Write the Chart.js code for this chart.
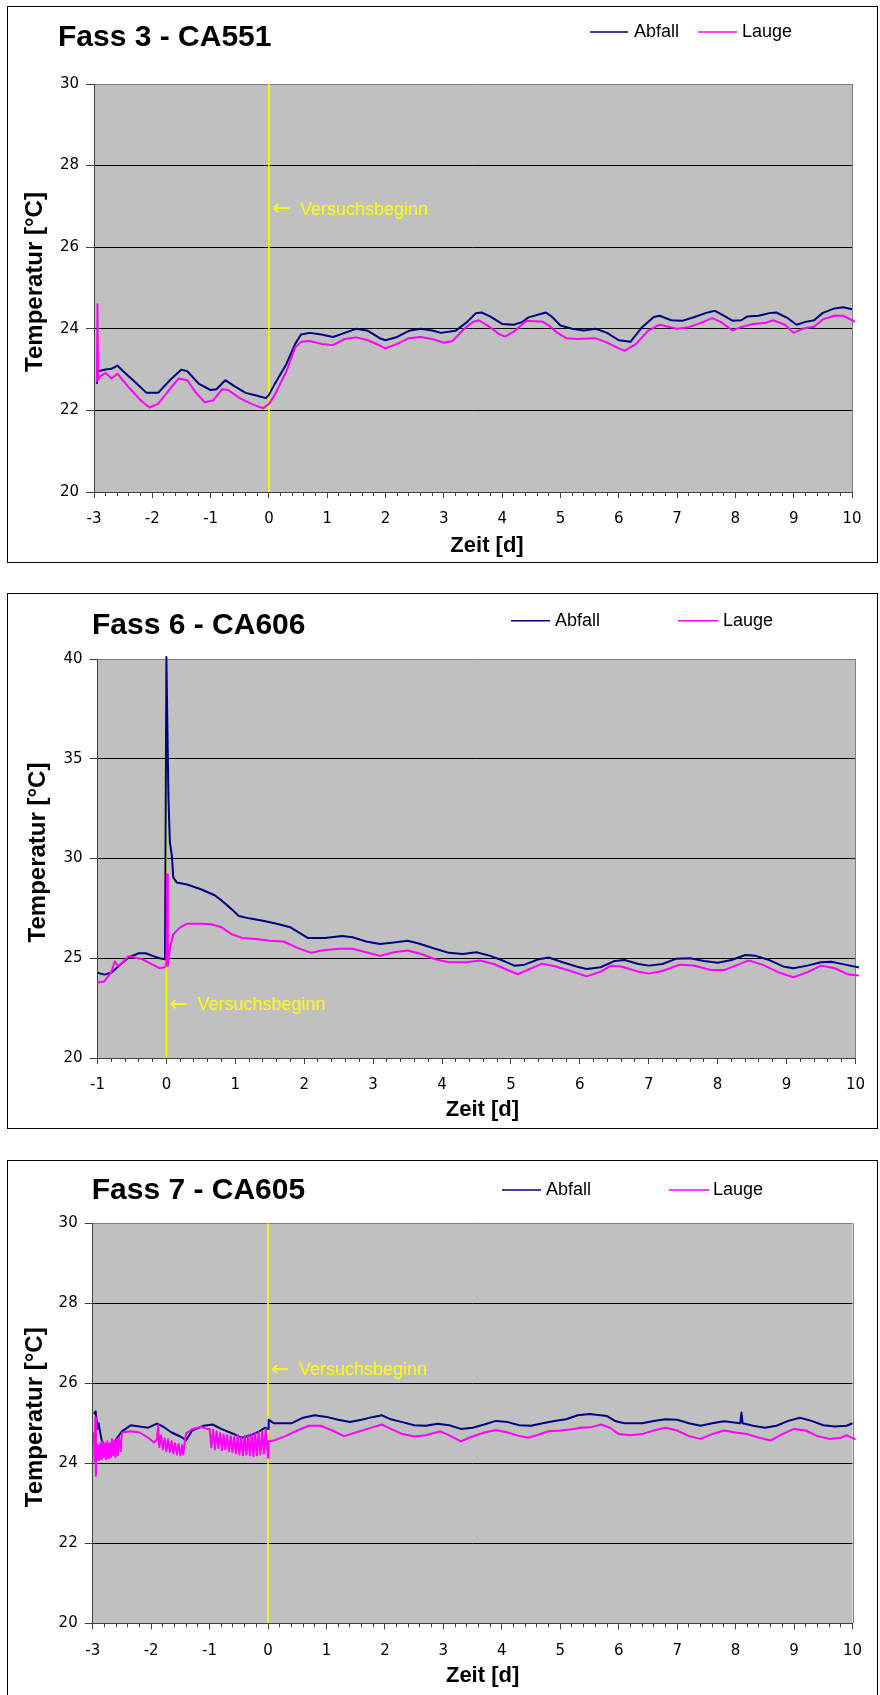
<!DOCTYPE html>
<html lang="de">
<head>
<meta charset="utf-8">
<title>Temperaturverlauf Fass 3, 6 und 7</title>
<script src="https://cdn.jsdelivr.net/npm/chart.js@4.4.1/dist/chart.umd.min.js"></script>
<style>
  html, body { margin: 0; padding: 0; background: #fff; }
  body { width: 880px; height: 1695px; position: relative; overflow: hidden; }
  .panel { position: absolute; box-sizing: border-box; border: 1px solid #000; background: #fff; }
  .panel canvas { display: block; }
</style>
</head>
<body>
<div class="panel" style="left:7px; top:6px; width:871px; height:557px;"><canvas id="fass3" width="869" height="555"></canvas></div>
<div class="panel" style="left:7px; top:593px; width:871px; height:536px;"><canvas id="fass6" width="869" height="534"></canvas></div>
<div class="panel" style="left:7px; top:1160px; width:871px; height:545px;"><canvas id="fass7" width="869" height="543"></canvas></div>
<script>
// ---- Messdaten: Zeit [d] und Temperatur [°C] ----
const seriesNames = ['Abfall', 'Lauge'];
const versuchsbeginn = 0;

// Fass 3 - CA551
const f3AbfallT = [-2.95,-2.93,-2.8,-2.7,-2.6,-2.5,-2.3,-2.1,-1.9,-1.7,-1.5,-1.4,-1.2,-1.0,-0.9,-0.75,-0.6,-0.4,-0.2,-0.05,0,0.1,0.3,0.45,0.55,0.7,0.9,1.1,1.3,1.5,1.7,1.9,2.0,2.2,2.4,2.6,2.8,2.95,3.2,3.4,3.55,3.65,3.8,4.0,4.2,4.35,4.45,4.75,4.85,5.0,5.2,5.4,5.6,5.8,6.0,6.2,6.4,6.6,6.7,6.9,7.1,7.3,7.5,7.65,7.8,7.95,8.1,8.2,8.4,8.6,8.7,8.9,9.05,9.2,9.35,9.5,9.7,9.85,10.0,10.05];
const f3AbfallC = [22.65,22.96,23.0,23.02,23.1,22.96,22.7,22.43,22.43,22.74,23.0,22.96,22.65,22.5,22.52,22.74,22.6,22.43,22.36,22.3,22.38,22.65,23.14,23.63,23.86,23.9,23.86,23.8,23.9,24.0,23.95,23.77,23.72,23.8,23.95,24.0,23.96,23.9,23.95,24.17,24.38,24.4,24.3,24.12,24.1,24.17,24.28,24.4,24.3,24.08,24.0,23.96,24.0,23.9,23.72,23.68,24.04,24.29,24.32,24.21,24.2,24.29,24.39,24.44,24.32,24.2,24.21,24.3,24.32,24.39,24.4,24.26,24.1,24.17,24.21,24.39,24.5,24.53,24.48,24.44];
const f3LaugeT = [-2.95,-2.94,-2.93,-2.9,-2.8,-2.7,-2.6,-2.4,-2.2,-2.05,-1.9,-1.7,-1.55,-1.4,-1.25,-1.1,-0.95,-0.8,-0.7,-0.5,-0.3,-0.1,0,0.1,0.3,0.45,0.55,0.7,0.9,1.1,1.3,1.5,1.7,1.9,2.0,2.2,2.4,2.6,2.8,3.0,3.15,3.35,3.5,3.6,3.75,3.95,4.05,4.2,4.35,4.42,4.7,4.8,4.95,5.1,5.3,5.6,5.8,6.0,6.1,6.3,6.5,6.7,6.85,7.0,7.2,7.4,7.6,7.75,7.95,8.1,8.3,8.5,8.65,8.85,9.0,9.15,9.35,9.5,9.7,9.85,10.05];
const f3LaugeC = [22.7,24.6,22.75,22.83,22.92,22.78,22.9,22.56,22.25,22.07,22.16,22.52,22.78,22.74,22.43,22.2,22.25,22.52,22.5,22.3,22.16,22.05,22.16,22.38,22.96,23.54,23.68,23.7,23.63,23.6,23.75,23.79,23.72,23.59,23.52,23.63,23.77,23.8,23.75,23.66,23.7,24.0,24.17,24.21,24.08,23.87,23.81,23.93,24.12,24.2,24.17,24.08,23.9,23.77,23.75,23.77,23.66,23.52,23.46,23.63,23.95,24.1,24.05,24.0,24.04,24.14,24.26,24.17,23.96,24.04,24.12,24.14,24.21,24.1,23.9,24.0,24.05,24.23,24.32,24.32,24.17];

// Fass 6 - CA606
const f6AbfallT = [-1.0,-0.9,-0.8,-0.7,-0.55,-0.4,-0.3,-0.2,-0.1,-0.02,0.0,0.02,0.03,0.05,0.08,0.1,0.15,0.3,0.5,0.7,0.8,0.95,1.05,1.2,1.4,1.6,1.8,1.95,2.05,2.3,2.55,2.7,2.9,3.1,3.3,3.5,3.65,3.9,4.1,4.3,4.5,4.7,4.9,5.05,5.2,5.4,5.55,5.75,5.95,6.1,6.3,6.5,6.65,6.85,7.0,7.2,7.4,7.6,7.8,8.0,8.2,8.4,8.55,8.75,8.95,9.1,9.3,9.5,9.65,9.85,10.05];
const f6AbfallC = [24.27,24.18,24.27,24.59,25.04,25.25,25.25,25.12,25.0,24.95,40.1,35.2,33.0,30.84,30.1,29.05,28.8,28.7,28.46,28.16,27.9,27.45,27.12,27.0,26.88,26.73,26.55,26.23,26.02,26.02,26.11,26.05,25.84,25.71,25.79,25.88,25.75,25.48,25.27,25.21,25.3,25.12,24.86,24.63,24.68,24.95,25.04,24.8,24.59,24.46,24.55,24.86,24.91,24.71,24.63,24.71,24.98,25.0,24.86,24.77,24.91,25.16,25.12,24.91,24.59,24.5,24.63,24.8,24.82,24.68,24.54];
const f6LaugeT = [-1.0,-0.9,-0.8,-0.75,-0.7,-0.65,-0.55,-0.45,-0.35,-0.2,-0.1,-0.02,0.0,0.01,0.02,0.05,0.1,0.2,0.3,0.5,0.65,0.8,0.95,1.1,1.3,1.5,1.7,1.9,2.1,2.25,2.5,2.7,2.9,3.1,3.3,3.5,3.7,3.9,4.1,4.35,4.55,4.75,4.95,5.1,5.3,5.45,5.65,5.9,6.1,6.3,6.45,6.6,6.85,7.0,7.2,7.45,7.65,7.9,8.1,8.3,8.45,8.65,8.9,9.1,9.3,9.5,9.7,9.9,10.05];
const f6LaugeC = [23.79,23.84,24.3,24.84,24.6,24.75,25.1,25.02,24.95,24.68,24.5,24.55,24.77,29.2,24.6,25.48,26.2,26.55,26.73,26.73,26.7,26.55,26.2,26.02,25.96,25.88,25.84,25.52,25.27,25.39,25.48,25.48,25.3,25.12,25.3,25.39,25.21,24.95,24.8,24.8,24.89,24.71,24.41,24.2,24.5,24.73,24.59,24.32,24.09,24.32,24.63,24.59,24.32,24.23,24.36,24.68,24.64,24.41,24.41,24.68,24.89,24.68,24.27,24.05,24.29,24.63,24.5,24.18,24.14];

// Fass 7 - CA605
const f7AbfallT = [-2.98,-2.95,-2.92,-2.9,-2.85,-2.8,-2.7,-2.6,-2.5,-2.35,-2.2,-2.05,-1.9,-1.8,-1.65,-1.5,-1.4,-1.3,-1.1,-0.95,-0.8,-0.6,-0.45,-0.3,-0.15,-0.05,0,0.01,0.1,0.4,0.6,0.8,1.0,1.2,1.4,1.6,1.8,1.95,2.1,2.3,2.5,2.7,2.9,3.1,3.3,3.5,3.7,3.9,4.1,4.3,4.5,4.7,4.9,5.1,5.3,5.5,5.8,5.95,6.1,6.4,6.6,6.8,7.0,7.2,7.4,7.6,7.8,8.08,8.1,8.12,8.3,8.5,8.7,8.9,9.1,9.3,9.5,9.7,9.9,10.0,10.05];
const f7AbfallC = [25.23,25.3,24.86,25.0,24.6,24.41,24.37,24.6,24.8,24.95,24.92,24.89,24.99,24.92,24.77,24.67,24.58,24.82,24.94,24.97,24.86,24.74,24.64,24.7,24.8,24.89,24.86,25.09,25.0,25.0,25.14,25.2,25.16,25.09,25.03,25.09,25.16,25.2,25.1,25.03,24.95,24.94,24.99,24.95,24.86,24.89,24.97,25.06,25.03,24.95,24.94,25.0,25.06,25.1,25.2,25.23,25.18,25.05,25.0,25.0,25.06,25.1,25.09,25.0,24.94,25.0,25.05,25.0,25.27,25.0,24.94,24.89,24.94,25.06,25.14,25.06,24.95,24.92,24.94,25.0,24.92];
const f7LaugeT = [-2.98,-2.965,-2.955,-2.945,-2.935,-2.925,-2.91,-2.89,-2.87,-2.85,-2.83,-2.81,-2.79,-2.77,-2.75,-2.73,-2.71,-2.69,-2.67,-2.65,-2.63,-2.61,-2.59,-2.57,-2.55,-2.52,-2.5,-2.35,-2.2,-2.05,
  -1.95,-1.9,-1.88,-1.86,-1.83,-1.8,-1.77,-1.74,-1.71,-1.68,-1.65,-1.62,-1.59,-1.56,-1.53,-1.5,-1.47,-1.45,-1.42,-1.4,-1.3,-1.15,-1.05,
  -1.0,-0.97,-0.94,-0.91,-0.88,-0.85,-0.82,-0.79,-0.76,-0.73,-0.7,-0.67,-0.64,-0.61,-0.58,-0.55,-0.52,-0.49,-0.46,-0.43,-0.4,-0.37,-0.34,-0.31,-0.28,-0.25,-0.22,-0.19,-0.16,-0.13,-0.1,-0.07,-0.04,-0.02,0,
  0.01,0.1,0.3,0.5,0.7,0.9,1.1,1.3,1.5,1.7,1.95,2.1,2.3,2.5,2.7,2.95,3.1,3.3,3.5,3.7,3.9,4.1,4.3,4.45,4.6,4.8,5.0,5.2,5.35,5.55,5.7,5.85,6.0,6.2,6.4,6.6,6.8,7.0,7.2,7.4,7.6,7.8,8.0,8.2,8.4,8.6,8.8,9.0,9.2,9.4,9.6,9.8,9.9,10.05];
const f7LaugeC = [24.77,24.05,25.14,23.69,24.5,24.1,24.45,24.08,24.5,24.1,24.55,24.15,24.5,24.1,24.55,24.12,24.5,24.15,24.6,24.2,24.55,24.15,24.6,24.2,24.65,24.3,24.77,24.8,24.77,24.64,
  24.52,24.6,24.95,24.4,24.7,24.35,24.62,24.3,24.6,24.28,24.55,24.25,24.5,24.22,24.48,24.2,24.45,24.22,24.6,24.75,24.85,24.91,24.86,
  24.86,24.4,24.84,24.35,24.8,24.38,24.75,24.33,24.72,24.35,24.7,24.3,24.68,24.28,24.66,24.25,24.7,24.22,24.65,24.2,24.68,24.22,24.7,24.2,24.72,24.18,24.75,24.2,24.78,24.22,24.8,24.25,24.85,24.5,24.14,
  24.55,24.57,24.68,24.82,24.94,24.94,24.82,24.68,24.77,24.86,24.97,24.86,24.73,24.67,24.7,24.8,24.7,24.55,24.67,24.77,24.83,24.77,24.68,24.64,24.7,24.8,24.82,24.85,24.89,24.91,24.97,24.89,24.73,24.7,24.73,24.82,24.89,24.82,24.68,24.61,24.73,24.82,24.77,24.73,24.64,24.57,24.73,24.86,24.82,24.68,24.61,24.64,24.7,24.6];

// Achsenbereiche
const f3Days = [-3, 10], f3Temp = [20, 30];
const f6Days = [-1, 10], f6Temp = [20, 40];
const f7Days = [-3, 10], f7Temp = [20, 30];

// ---- Darstellung ----
const SANS = '"Liberation Sans", Arial, Helvetica, sans-serif';
const TICK_FONT = { family: '"DejaVu Sans", Verdana, sans-serif', size: 15 };
const COLORS = { Abfall: '#000080', Lauge: '#FF00FF', start: '#FFFF00' };

const pts = (t, c) => t.map((x, i) => ({ x, y: c[i] }));

// Plotfläche, Rahmen, Achsentitel, Überschrift, Legende und Markierung des Versuchsbeginns
const panelPlugin = {
  id: 'panel',
  beforeDraw(chart) {
    const { ctx, chartArea: a } = chart;
    ctx.save();
    ctx.fillStyle = '#C0C0C0';
    ctx.fillRect(a.left, a.top, a.right - a.left, a.bottom - a.top);
    ctx.restore();
  },
  beforeDatasetsDraw(chart) {
    const { ctx, chartArea: a } = chart;
    const xr = Math.round(a.right) + 0.5;
    ctx.save();
    ctx.strokeStyle = '#808080';
    ctx.lineWidth = 1;
    ctx.beginPath();
    ctx.moveTo(xr, a.top);
    ctx.lineTo(xr, a.bottom);
    ctx.stroke();
    ctx.restore();
  },
  afterDraw(chart, args, opts) {
    const { ctx, chartArea: a } = chart;
    const sc = chart.options.scales;
    ctx.save();
    ctx.fillStyle = '#000';

    // Achsentitel
    ctx.textAlign = 'center';
    ctx.textBaseline = 'middle';
    ctx.font = 'bold 24px ' + SANS;
    ctx.save();
    ctx.translate(opts.yTitleX, (a.top + a.bottom) / 2 + opts.yTitleDy);
    ctx.rotate(-Math.PI / 2);
    ctx.fillText(sc.y.title.text, 0, 0);
    ctx.restore();
    ctx.font = 'bold 22px ' + SANS;
    ctx.fillText(sc.x.title.text, (a.left + a.right) / 2 + opts.xTitleDx, opts.xTitleY);

    // Überschrift
    ctx.textAlign = 'left';
    ctx.textBaseline = 'alphabetic';
    ctx.font = 'bold 30px ' + SANS;
    ctx.fillText(opts.heading, opts.headingX, opts.headingY);

    // Legende
    ctx.font = '18px ' + SANS;
    ctx.textBaseline = 'middle';
    chart.data.datasets.forEach((ds, i) => {
      const slot = opts.legendSlots[i];
      if (!slot || !ds.label) return;
      ctx.strokeStyle = ds.borderColor;
      ctx.lineWidth = 1.5;
      ctx.beginPath();
      ctx.moveTo(slot[0], opts.legendY);
      ctx.lineTo(slot[1], opts.legendY);
      ctx.stroke();
      ctx.fillStyle = '#000';
      ctx.fillText(ds.label, slot[2], opts.legendY);
    });

    // Versuchsbeginn
    const x0 = chart.scales.x.getPixelForValue(versuchsbeginn);
    const yn = chart.scales.y.getPixelForValue(opts.noteAt);
    ctx.fillStyle = COLORS.start;
    ctx.font = '22px "DejaVu Sans", sans-serif';
    ctx.fillText('\u2190', x0 + 3, yn);
    ctx.font = '18px ' + SANS;
    ctx.fillText('Versuchsbeginn', x0 + 31, yn);
    ctx.restore();
  }
};

function drawPanel(id, s) {
  const [xmin, xmax] = s.days;
  const [ymin, ymax] = s.temp;
  new Chart(document.getElementById(id), {
    type: 'line',
    data: {
      datasets: [
        { label: seriesNames[0], data: pts(s.abfallT, s.abfallC), borderColor: COLORS.Abfall, borderWidth: 2, order: 1, clip: false },
        { label: seriesNames[1], data: pts(s.laugeT, s.laugeC), borderColor: COLORS.Lauge, borderWidth: 2, order: 0, clip: false },
        { label: '', data: [{ x: versuchsbeginn, y: ymin }, { x: versuchsbeginn, y: ymax }], borderColor: COLORS.start, borderWidth: 1.5, order: 2 }
      ]
    },
    options: {
      responsive: false,
      animation: false,
      devicePixelRatio: 1,
      events: [],
      elements: { point: { radius: 0 }, line: { tension: 0, borderJoinStyle: 'round' } },
      layout: { padding: s.pad },
      scales: {
        xMinor: {
          type: 'linear', position: 'bottom', weight: -1, min: xmin, max: xmax,
          afterFit: sc => { sc.height = 0; },
          ticks: { display: false, stepSize: 0.2, autoSkip: false },
          grid: { drawOnChartArea: false, tickLength: 4, color: '#404040' },
          border: { display: false }
        },
        x: {
          type: 'linear', position: 'bottom', min: xmin, max: xmax,
          afterFit: sc => { sc.height = s.xHeight; },
          ticks: { stepSize: 1, autoSkip: false, maxRotation: 0, padding: s.xLabelPad, color: '#000', font: TICK_FONT },
          grid: { drawOnChartArea: false, tickLength: 6, color: '#404040' },
          border: { color: '#404040', width: 1 },
          title: { display: false, text: 'Zeit [d]' }
        },
        y: {
          type: 'linear', position: 'left', min: ymin, max: ymax,
          afterFit: sc => { sc.width = s.yWidth; },
          ticks: { stepSize: s.yStep, padding: 7, color: '#000', font: TICK_FONT },
          grid: {
            color: c => (c.tick && c.tick.value === ymax ? '#808080' : '#000'),
            tickColor: '#404040', tickLength: 8, lineWidth: 1
          },
          border: { color: '#404040', width: 1 },
          title: { display: false, text: 'Temperatur [°C]' }
        }
      },
      plugins: {
        legend: { display: false },
        title: { display: false },
        tooltip: { enabled: false },
        panel: {
          heading: s.heading, headingX: s.headingX, headingY: s.headingY,
          legendY: s.legendY, legendSlots: s.legendSlots,
          yTitleX: s.yTitleX, yTitleDy: s.yTitleDy, xTitleDx: s.xTitleDx, xTitleY: s.xTitleY,
          noteAt: s.noteAt
        }
      }
    },
    plugins: [panelPlugin]
  });
}

drawPanel('fass3', {
  heading: 'Fass 3 - CA551', headingX: 50, headingY: 38.7,
  legendY: 25, legendSlots: [[582, 620, 626], [690, 729, 734]],
  abfallT: f3AbfallT, abfallC: f3AbfallC, laugeT: f3LaugeT, laugeC: f3LaugeC,
  days: f3Days, temp: f3Temp, yStep: 2, noteAt: 26.92,
  pad: { left: 14.8, top: 77, right: 25, bottom: 4.8 }, yWidth: 71.2, xHeight: 65.2, xLabelPad: 12.5,
  yTitleX: 27.5, yTitleDy: -6, xTitleDx: 14, xTitleY: 538.5
});

drawPanel('fass6', {
  heading: 'Fass 6 - CA606', headingX: 84, headingY: 39.5,
  legendY: 26.7, legendSlots: [[503, 542, 547], [670, 710, 715]],
  abfallT: f6AbfallT, abfallC: f6AbfallC, laugeT: f6LaugeT, laugeC: f6LaugeC,
  days: f6Days, temp: f6Temp, yStep: 5, noteAt: 22.66,
  pad: { left: 16.8, top: 65, right: 20.5, bottom: 4.8 }, yWidth: 72.7, xHeight: 65.2, xLabelPad: 12,
  yTitleX: 30, yTitleDy: -6, xTitleDx: 6, xTitleY: 516
});

drawPanel('fass7', {
  heading: 'Fass 7 - CA605', headingX: 83.7, headingY: 38.3,
  legendY: 29, legendSlots: [[494, 533, 538], [661, 701, 705]],
  abfallT: f7AbfallT, abfallC: f7AbfallC, laugeT: f7LaugeT, laugeC: f7LaugeC,
  days: f7Days, temp: f7Temp, yStep: 2, noteAt: 26.33,
  pad: { left: 13.8, top: 62.3, right: 24.5, bottom: 15.2 }, yWidth: 70.9, xHeight: 65.5, xLabelPad: 12.7,
  yTitleX: 27, yTitleDy: -6, xTitleDx: 10, xTitleY: 514.6
});
</script>
</body>
</html>
